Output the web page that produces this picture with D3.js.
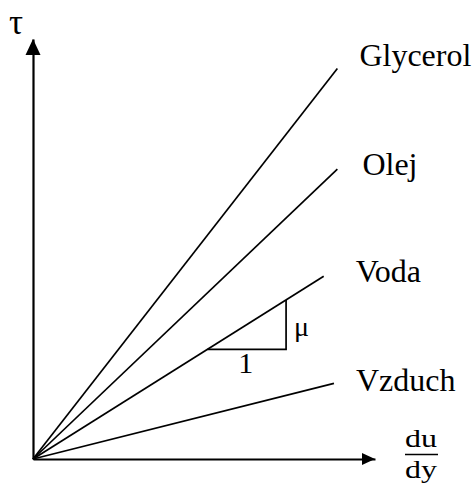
<!DOCTYPE html>
<html>
<head>
<meta charset="utf-8">
<script src="https://cdn.jsdelivr.net/npm/d3@7"></script>
<style>
  html, body { margin: 0; padding: 0; background: #fff; }
  svg text { font-family: "Liberation Serif", "Times New Roman", serif; fill: #000; }
</style>
</head>
<body>
<svg id="chart" width="474" height="491"></svg>
<script>
// Fluids and the end point of each shear-stress line (in axis units 0..100)
const fluids = ["Glycerol", "Olej", "Voda", "Vzduch"];
const shearRateEnd = [89, 89, 85, 88];      // du/dy at the end of each line
const shearStressEnd = [93, 69, 43.5, 18];  // τ at the end of each line

// Slope triangle drawn on the water line (du/dy span)
const slopeFluid = "Voda";
const slopeSpan = [51, 74];

// Axis titles
const yTitle = "τ";
const xTitleTop = "du";
const xTitleBottom = "dy";
const slopeRunLabel = "1";
const slopeRiseLabel = "μ";

// Layout: label offsets from each line's end point (px)
const labelDx = [22, 25, 32, 22];
const labelDy = [-2, 6, 6, 8];

const svg = d3.select("#chart");
const x = d3.scaleLinear().domain([0, 100]).range([33, 375]);
const y = d3.scaleLinear().domain([0, 100]).range([459, 39]);

// Axes: plain domain lines without ticks
const axisX = svg.append("g").attr("transform", `translate(0,${y(0)})`)
  .call(d3.axisBottom(x).tickValues([]).tickSizeOuter(0));
const axisY = svg.append("g").attr("transform", `translate(${x(0)},0)`)
  .call(d3.axisLeft(y).tickValues([]).tickSizeOuter(0));
[axisX, axisY].forEach(g => g.select(".domain").attr("stroke", "#000").attr("stroke-width", 2.2));

// Arrow heads
const xEnd = x(100), yEnd = y(100);
svg.append("path")
  .attr("d", `M${xEnd},${y(0)} L${xEnd - 13},${y(0) - 6} L${xEnd - 13},${y(0) + 6} Z`)
  .attr("fill", "#000");
svg.append("path")
  .attr("d", `M${x(0)},${yEnd} L${x(0) - 7.5},${yEnd + 16} L${x(0) + 7.5},${yEnd + 16} Z`)
  .attr("fill", "#000");

// Fluid lines from the origin
const line = d3.line().x(d => x(d[0])).y(d => y(d[1]));
fluids.forEach((name, i) => {
  svg.append("path")
    .attr("d", line([[0, 0], [shearRateEnd[i], shearStressEnd[i]]]))
    .attr("stroke", "#000").attr("stroke-width", 1.7).attr("fill", "none");
  svg.append("text")
    .attr("x", x(shearRateEnd[i]) + labelDx[i])
    .attr("y", y(shearStressEnd[i]) + labelDy[i])
    .attr("font-size", 32)
    .text(name);
});

// Slope triangle on the water line
const k = fluids.indexOf(slopeFluid);
const mu = shearStressEnd[k] / shearRateEnd[k];
const [a, b] = slopeSpan;
svg.append("path")
  .attr("d", line([[a, a * mu], [b, a * mu], [b, b * mu]]))
  .attr("stroke", "#000").attr("stroke-width", 1.7).attr("fill", "none");
svg.append("text")
  .attr("x", (x(a) + x(b)) / 2 - 1).attr("y", y(a * mu) + 24)
  .attr("text-anchor", "middle").attr("font-size", 30)
  .text(slopeRunLabel);
svg.append("text")
  .attr("x", x(b) + 8).attr("y", (y(a * mu) + y(b * mu)) / 2 + 11)
  .attr("font-size", 28)
  .text(slopeRiseLabel);

// Axis titles
svg.append("text")
  .attr("x", 16).attr("y", 34).attr("text-anchor", "middle")
  .attr("font-size", 35).text(yTitle);

const fx = 421;
svg.append("text")
  .attr("x", fx).attr("y", 447).attr("text-anchor", "middle")
  .attr("font-size", 25).attr("textLength", 32).attr("lengthAdjust", "spacingAndGlyphs")
  .text(xTitleTop);
svg.append("line")
  .attr("x1", fx - 16).attr("x2", fx + 17).attr("y1", 454.5).attr("y2", 454.5)
  .attr("stroke", "#000").attr("stroke-width", 1.6);
svg.append("text")
  .attr("x", fx).attr("y", 478).attr("text-anchor", "middle")
  .attr("font-size", 25).attr("textLength", 32).attr("lengthAdjust", "spacingAndGlyphs")
  .text(xTitleBottom);
</script>
</body>
</html>
